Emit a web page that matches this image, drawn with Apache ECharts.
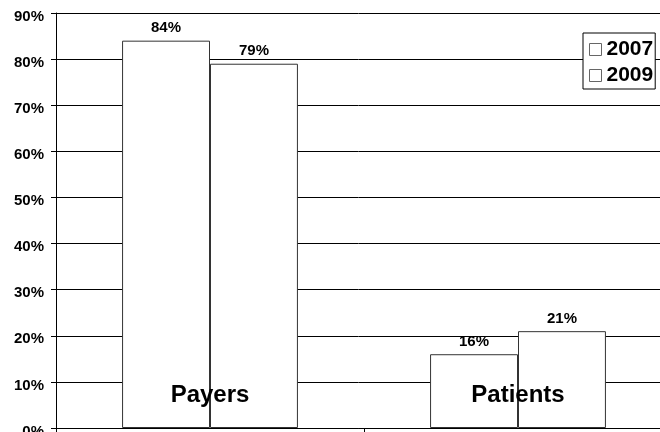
<!DOCTYPE html>
<html>
<head>
<meta charset="utf-8">
<script src="https://cdn.jsdelivr.net/npm/echarts@6/dist/echarts.min.js"></script>
<style>
  html, body { margin: 0; padding: 0; background: #fff; }
  #chart { width: 660px; height: 432px; }
</style>
</head>
<body>
<div id="chart"></div>
<script>
// Share by group, 2007 vs 2009
const categories = ['Payers', 'Patients'];
const seriesNames = ['2007', '2009'];
const values2007 = [84, 16];
const values2009 = [79, 21];
const yTicks = [0, 10, 20, 30, 40, 50, 60, 70, 80, 90];

const FONT = '"Liberation Sans", Arial, sans-serif';

const chart = echarts.init(document.getElementById('chart'), null, { renderer: 'canvas' });

function barSeries(name, data) {
  return {
    name: name,
    type: 'bar',
    data: data,
    barGap: '0%',
    barCategoryGap: '42.9%',
    itemStyle: { color: '#ffffff', borderColor: '#333333', borderWidth: 1 },
    label: {
      show: true,
      position: 'top',
      distance: 5,
      formatter: p => p.value + '%',
      fontFamily: FONT,
      fontWeight: 'bold',
      fontSize: 15,
      color: '#000'
    },
    emphasis: { disabled: true },
    animation: false
  };
}

chart.setOption({
  backgroundColor: '#ffffff',
  animation: false,
  // plot area runs past the right edge of the canvas
  grid: { left: 56, width: 616, top: 13, bottom: 4, containLabel: false, outerBoundsMode: 'none' },
  legend: {
    orient: 'vertical',
    left: 583,
    top: 33,
    data: seriesNames,
    icon: 'rect',
    itemWidth: 12,
    itemHeight: 12,
    itemGap: 5,
    padding: [6, 2, 3, 6],
    borderColor: '#000',
    borderWidth: 1,
    backgroundColor: '#fff',
    itemStyle: { color: '#ffffff', borderColor: '#666666', borderWidth: 1 },
    textStyle: { fontFamily: FONT, fontWeight: 'bold', fontSize: 21, color: '#000' },
    selectedMode: false
  },
  xAxis: {
    type: 'category',
    data: categories,
    axisLine: { lineStyle: { color: '#000', width: 1 } },
    axisTick: { show: true, length: 6, lineStyle: { color: '#000' } },
    axisLabel: {
      inside: true,
      margin: 21,
      fontFamily: FONT,
      fontWeight: 'bold',
      fontSize: 24,
      color: '#000'
    },
    z: 10
  },
  yAxis: {
    type: 'value',
    min: 0,
    max: 90,
    interval: 10,
    axisLine: { show: true, lineStyle: { color: '#000', width: 1 } },
    axisTick: { show: true, length: 5, lineStyle: { color: '#000' } },
    splitLine: { show: true, lineStyle: { color: '#000', width: 1 } },
    axisLabel: {
      margin: 12,
      // tick labels sit slightly below their gridline
      verticalAlign: 'top',
      lineHeight: 7,
      fontFamily: FONT,
      fontWeight: 'bold',
      fontSize: 15,
      color: '#000',
      formatter: v => (yTicks.includes(v) ? v + '%' : '')
    }
  },
  series: [barSeries(seriesNames[0], values2007), barSeries(seriesNames[1], values2009)]
});
</script>
</body>
</html>
